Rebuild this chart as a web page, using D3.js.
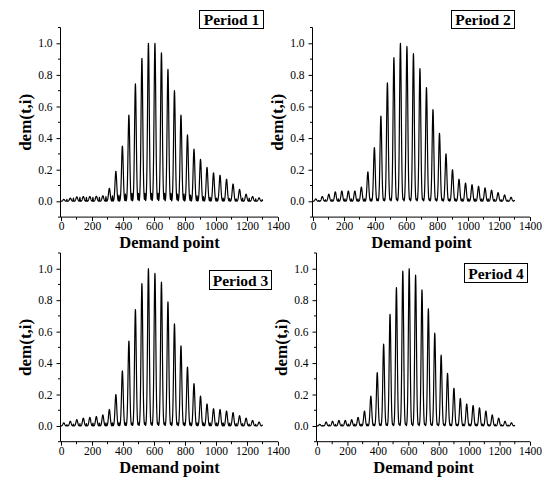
<!DOCTYPE html>
<html><head><meta charset="utf-8">
<script src="https://cdn.jsdelivr.net/npm/d3@7"></script>
<style>body{margin:0;background:#fff}svg{display:block}</style>
</head><body>
<svg id="c" width="551" height="486"></svg>
<script>
// ---- data ----
const periodLabels = ["Period 1", "Period 2", "Period 3", "Period 4"];
const xTickValues = [0, 200, 400, 600, 800, 1000, 1200, 1400];
const yTickValues = [0.0, 0.2, 0.4, 0.6, 0.8, 1.0];
const xLabel = "Demand point";
const yLabel = "dem(t,i)";
const groupSize = 42;           // demand points per block
// shape of one block (normalised)
const spikeProfile = [0.004,0.008,0.014,0.024,0.039,0.061,0.092,0.135,0.191,0.262,0.347,0.445,0.552,0.662,0.768,0.862,0.936,0.984,1.0,0.984,0.936,0.862,0.768,0.662,0.552,0.445,0.347,0.262,0.191,0.135,0.092,0.061,0.039,0.024,0.014,0.008,0.004,0,0,0,0,0];
const minorProfile = [0,0,0,0,0,0,0,0,0,0,0,0,0,0,0,0,0,0,0,0,0,0,0,0,0,0,0,0,0,0,0,0,0,0,0,0.15,0.45,0.8,1.0,0.8,0.45,0.15];
// block peak heights, period 1..4
const peaks1 = [0.012,0.02,0.028,0.03,0.03,0.032,0.035,0.082,0.19,0.35,0.546,0.743,0.905,1.0,1.0,0.94,0.835,0.70,0.546,0.42,0.33,0.266,0.215,0.18,0.165,0.14,0.11,0.075,0.045,0.03,0.022];
const peaks2 = [0.015,0.03,0.045,0.06,0.065,0.065,0.065,0.09,0.186,0.34,0.54,0.75,0.91,1.0,0.98,0.935,0.84,0.72,0.58,0.43,0.30,0.20,0.14,0.115,0.105,0.095,0.085,0.07,0.055,0.04,0.025];
const peaks3 = [0.02,0.03,0.04,0.05,0.055,0.06,0.07,0.105,0.20,0.35,0.54,0.74,0.905,1.0,0.97,0.915,0.79,0.65,0.51,0.375,0.27,0.19,0.14,0.11,0.105,0.095,0.085,0.065,0.05,0.035,0.025];
const peaks4 = [0.01,0.025,0.03,0.035,0.035,0.04,0.055,0.095,0.19,0.34,0.52,0.71,0.88,0.985,1.0,0.96,0.865,0.745,0.59,0.45,0.335,0.24,0.175,0.14,0.13,0.115,0.095,0.07,0.05,0.03,0.02];
// small secondary bumps inside each block
const minors1 = [0.012,0.02,0.025,0.025,0.025,0.025,0.03,0.035,0.04,0.045,0.05,0.05,0.05,0.05,0.05,0.05,0.05,0.045,0.045,0.04,0.035,0.03,0.025,0.02,0.02,0.018,0.015,0.02,0.02,0.015,0.01];
const minors2 = [0.005,0.01,0.012,0.015,0.015,0.015,0.015,0.015,0.015,0.015,0.015,0.015,0.015,0.015,0.015,0.015,0.015,0.015,0.015,0.015,0.015,0.015,0.015,0.015,0.015,0.015,0.015,0.012,0.01,0.008,0.005];
const minors3 = [0.008,0.012,0.015,0.015,0.018,0.018,0.02,0.02,0.02,0.02,0.02,0.02,0.02,0.02,0.02,0.02,0.02,0.02,0.02,0.02,0.02,0.02,0.02,0.02,0.02,0.018,0.015,0.015,0.012,0.01,0.006];
const minors4 = [0.004,0.008,0.01,0.01,0.012,0.012,0.012,0.012,0.012,0.012,0.012,0.012,0.012,0.012,0.012,0.012,0.012,0.012,0.012,0.012,0.012,0.012,0.012,0.012,0.012,0.012,0.01,0.01,0.008,0.006,0.004];
const peaksAll = [peaks1, peaks2, peaks3, peaks4];
const minorsAll = [minors1, minors2, minors3, minors4];

// ---- layout ----
const panels = [
  {x0: 61,  x1: 278, yb: 217.1, yt: 27.5,  box: [199, 10, 64, 18]},
  {x0: 313, x1: 530, yb: 217.1, yt: 27.5,  box: [451, 10, 63, 18]},
  {x0: 61,  x1: 278, yb: 441.7, yt: 253,   box: [209, 270, 62, 19]},
  {x0: 317, x1: 530, yb: 441.7, yt: 253,   box: [464, 263, 63, 19]}
];

const svg = d3.select("#c");
const serif = "'Liberation Serif','Times New Roman',serif";

panels.forEach((p, i) => {
  const x = d3.scaleLinear().domain([0, 1400]).range([p.x0, p.x1]);
  const y = d3.scaleLinear().domain([-0.1, 1.1]).range([p.yb, p.yt]);
  const pk = peaksAll[i], mn = minorsAll[i];
  const pts = [];
  pk.forEach((h, k) => {
    spikeProfile.forEach((s, j) => {
      pts.push([k * groupSize + j, h * s + mn[k] * minorProfile[j]]);
    });
  });
  const g = svg.append("g");

  // axes
  const xAxis = d3.axisBottom(x).tickValues(xTickValues).tickSize(4).tickPadding(1).tickFormat(d3.format("d"));
  const gx = g.append("g").attr("transform", `translate(0,${p.yb})`).call(xAxis);
  const xMinor = d3.range(100, 1400, 200);
  gx.selectAll(".minor").data(xMinor).enter().append("line")
    .attr("x1", d => x(d)).attr("x2", d => x(d)).attr("y1", 0).attr("y2", 2.5).attr("stroke", "#000");
  const yAxis = d3.axisLeft(y).tickValues(yTickValues).tickSize(4).tickPadding(4).tickFormat(d3.format(".1f"));
  const gy = g.append("g").attr("transform", `translate(${p.x0 - 0.5},0)`).call(yAxis);
  const yMinor = [-0.1, 0.1, 0.3, 0.5, 0.7, 0.9, 1.1];
  gy.selectAll(".minor").data(yMinor).enter().append("line")
    .attr("x1", 0).attr("x2", -2.5).attr("y1", d => y(d)).attr("y2", d => y(d)).attr("stroke", "#000");
  [gx, gy].forEach(a => {
    a.attr("font-family", serif).attr("font-size", "11.5px");
    a.select(".domain").attr("stroke", "#000").attr("stroke-width", 1);
    a.selectAll(".tick line").attr("stroke", "#000");
    a.selectAll(".tick text").attr("font-family", serif).attr("font-size", "11.5px").attr("fill", "#000");
  });
  gx.select(".domain").attr("d", `M${p.x0 - 0.5},0H${p.x1}`);
  gy.select(".domain").attr("d", `M0,${p.yb}V${p.yt}`);

  // line
  const line = d3.line().x(d => x(d[0])).y(d => y(d[1]));
  g.append("path").datum(pts).attr("d", line).attr("fill", "none")
    .attr("stroke", "#000").attr("stroke-width", 1.2).attr("stroke-linejoin", "round");

  // axis titles
  g.append("text").attr("x", (p.x0 + p.x1) / 2).attr("y", p.yb + 31)
    .attr("text-anchor", "middle").attr("font-family", serif).attr("font-weight", "bold")
    .attr("font-size", "16.5px").text(xLabel);
  const cy = (p.yb + p.yt) / 2;
  g.append("text").attr("transform", `translate(${p.x0 - 30},${cy}) rotate(-90)`)
    .attr("text-anchor", "middle").attr("font-family", serif).attr("font-weight", "bold")
    .attr("font-size", "17px").text(yLabel);

  // period box
  const [bx, by, bw, bh] = p.box;
  g.append("rect").attr("x", bx + 0.5).attr("y", by + 0.5).attr("width", bw).attr("height", bh)
    .attr("fill", "#fff").attr("stroke", "#000").attr("stroke-width", 1);
  g.append("text").attr("x", bx + bw / 2 + 0.5).attr("y", by + bh / 2 + 6)
    .attr("text-anchor", "middle").attr("font-family", serif).attr("font-weight", "bold")
    .attr("font-size", "15.5px").text(periodLabels[i]);
});
</script>
</body></html>
